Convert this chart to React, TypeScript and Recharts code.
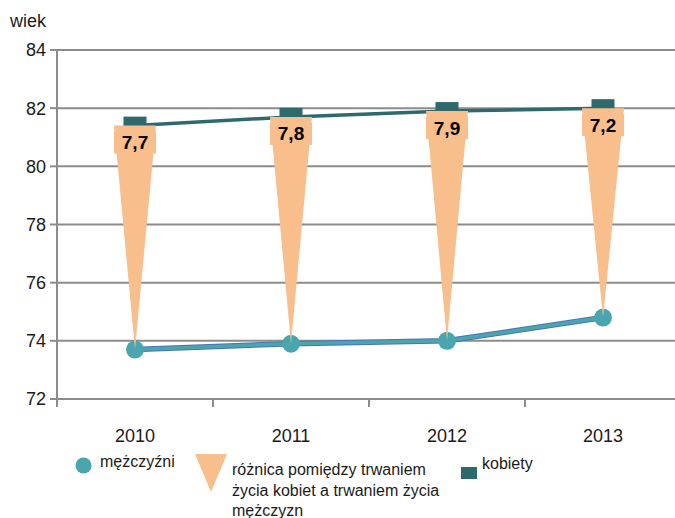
import React from 'react';
import { ComposedChart, Line, Bar, XAxis, YAxis, CartesianGrid, Legend } from 'recharts';

const years = ['2010', '2011', '2012', '2013'];
const men = [73.7, 73.9, 74.0, 74.8];
const women = [81.4, 81.7, 81.9, 82.0];
const gap = [7.7, 7.8, 7.9, 7.2];
const yTicks = [72, 74, 76, 78, 80, 82, 84];

const TEAL = '#4aa6ae';
const DARK = '#2e6a6b';
const ORANGE = '#f8be8c';
const GRID = '#8c8c8c';
const FONT = '"Liberation Sans", Arial, sans-serif';

const CHART_W = 690;
const MARGIN = { top: 50, right: 9, left: 0, bottom: 89 };
const Y_AXIS_W = 57;
const HALF_BAND = (CHART_W - MARGIN.right - MARGIN.left - Y_AXIS_W) / years.length / 2;

const data = years.map((year, i) => ({
  year,
  men: men[i],
  women: women[i],
  range: [men[i], women[i]],
  gap: gap[i],
}));

const GapShape = (props: any) => {
  const { x, y, width, height, payload } = props;
  const cx = x + width / 2;
  return (
    <g>
      <polygon points={`${x},${y} ${x + width},${y} ${cx},${y + height}`} fill={ORANGE} />
      <rect x={x} y={y + 6} width={width} height={22} fill={ORANGE} />
      <text x={cx} y={y + 17} textAnchor="middle" dominantBaseline="central"
        fontSize={19} fontWeight="bold" fill="#000" fontFamily={FONT}>
        {String(payload.gap).replace('.', ',')}
      </text>
    </g>
  );
};

const XTick = (props: any) => {
  const { x, y, payload } = props;
  return (
    <g>
      <line x1={x - HALF_BAND} x2={x - HALF_BAND} y1={y} y2={y + 8} stroke={GRID} strokeWidth={2} />
      <text x={x} y={y + 43} textAnchor="middle" fontSize={18} fill="#1a1a1a" fontFamily={FONT}>
        {payload.value}
      </text>
    </g>
  );
};

const WiekLabel = (props: any) => {
  const vb = props.viewBox || { x: 0, y: 50 };
  return (
    <text x={vb.x + 10} y={vb.y - 23} fontSize={18} fill="#1a1a1a" fontFamily={FONT}>wiek</text>
  );
};

const LegendBox = () => (
  <div style={{ position: 'relative', width: 675, height: 518, fontFamily: FONT, fontSize: 16, color: '#1a1a1a' }}>
    <svg width={675} height={518} style={{ position: 'absolute', left: 0, top: 0 }}>
      <circle cx={83.5} cy={465.5} r={8} fill={TEAL} />
      <polygon points="195,454 227,454 211,492" fill={ORANGE} />
      <rect x={461} y={467} width={16} height={12} fill={DARK} />
    </svg>
    <div style={{ position: 'absolute', left: 100, top: 452, lineHeight: '20.5px' }}>mężczyźni</div>
    <div style={{ position: 'absolute', left: 232, top: 460, lineHeight: '20.5px', whiteSpace: 'nowrap' }}>
      różnica pomiędzy trwaniem<br />życia kobiet a trwaniem życia<br />mężczyzn
    </div>
    <div style={{ position: 'absolute', left: 482, top: 454, lineHeight: '20.5px' }}>kobiety</div>
  </div>
);

export default function App() {
  return (
    <div style={{ position: 'absolute', left: 0, top: 0, width: 675, height: 518, overflow: 'hidden', background: '#fff', fontFamily: FONT }}>
      <ComposedChart width={CHART_W} height={518} data={data} margin={MARGIN}>
        <CartesianGrid horizontal vertical={false} stroke={GRID} strokeWidth={2} />
        <XAxis dataKey="year" height={30} tickSize={0} tickMargin={0} tickLine={false}
          axisLine={{ stroke: GRID, strokeWidth: 2 }} tick={<XTick />} interval={0} />
        <YAxis width={Y_AXIS_W} domain={[72, 84]} ticks={yTicks} interval={0} tickSize={7} tickMargin={4}
          axisLine={{ stroke: GRID, strokeWidth: 2 }} tickLine={{ stroke: GRID, strokeWidth: 2 }}
          tick={{ fontSize: 18, fill: '#1a1a1a', fontFamily: FONT }} label={<WiekLabel />} />
        <Legend layout="vertical" verticalAlign="middle" align="center" content={<LegendBox />}
          wrapperStyle={{ position: 'absolute', left: 0, top: 0, width: 675, height: 518, pointerEvents: 'none' }} />
        <Line dataKey="men" stroke="#4a72b8" strokeWidth={5.5} dot={false} activeDot={false}
          legendType="none" isAnimationActive={false} />
        <Line dataKey="men" name="mężczyźni" stroke={TEAL} strokeWidth={3.5} activeDot={false}
          isAnimationActive={false}
          dot={(p: any) => <circle key={`m${p.index}`} cx={p.cx} cy={p.cy} r={9} fill={TEAL} />} />
        <Line dataKey="women" name="kobiety" stroke={DARK} strokeWidth={3.5} activeDot={false}
          isAnimationActive={false}
          dot={(p: any) => <rect key={`w${p.index}`} x={p.cx - 11.5} y={p.cy - 9} width={23} height={18} fill={DARK} />} />
        <Bar dataKey="range" name="różnica" barSize={42} shape={<GapShape />} isAnimationActive={false}
          {...({ zIndex: 1500 } as any)} />
      </ComposedChart>
    </div>
  );
}
